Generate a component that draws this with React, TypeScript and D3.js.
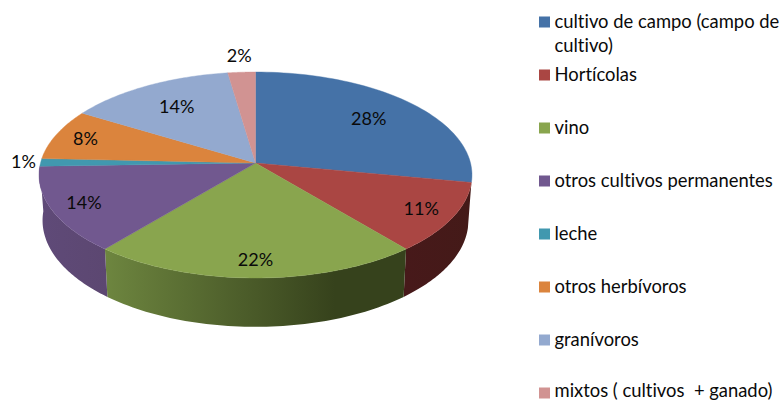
import React from "react";
import * as d3 from "d3";

const categories = ["cultivo de campo (campo de cultivo)", "Hortícolas", "vino", "otros cultivos permanentes", "leche", "otros herbívoros", "granívoros", "mixtos ( cultivos  + ganado)"];
const shares = [28, 11, 22, 13.5, 1.2, 8, 14, 2.3];
const colors = ["#4572A7", "#AA4643", "#89A54E", "#71588F", "#4198AF", "#DB843D", "#93A9CF", "#D19392"];

// layout only
const labelRadii = [0.72, 0.85, 0.86, 0.85, 1.08, 0.85, 0.71, 1.2];
const legendLines = [["cultivo de campo (campo de", "cultivo)"], [categories[1]], [categories[2]], [categories[3]], [categories[4]], [categories[5]], [categories[6]], [categories[7]]];
const legendY = [22, 75, 128, 181, 234, 287, 340, 391];
const FONT = "Lato, 'Open Sans', sans-serif";

const W = 783, H = 401;
const CX = 255.5, P = 0.1165;
const top = { y0: 163, A: 101.6, B: 215 };
const bottom = { y0: 208, A: 105, B: 211.5 };

type Rim = typeof top;
const project = (rim: Rim, theta: number, r = 1): [number, number] => {
  const u = Math.sin(theta) * r, v = -Math.cos(theta) * r, k = 1 - P * v;
  return [CX + (rim.B * u) / k, rim.y0 + (rim.A * v) / k];
};
const arcPoints = (rim: Rim, a0: number, a1: number) =>
  d3.range(0, 61).map((i) => project(rim, a0 + ((a1 - a0) * i) / 60));
const line = d3.line();

const slices = d3.pie<number>().sort(null).startAngle(0).endAngle(2 * Math.PI)(shares);

// the walls seen from the viewer: only the front half of the rim shows
const wallShades: Record<number, [string, string, number, number]> = {
  1: ["#47191a", "#441a18", 406, 472],
  2: ["#6d853f", "#36421c", 107, 335],
  3: ["#5f4a78", "#5c4771", 41, 107],
};

export default function App() {
  return (
    <svg width={W} height={H} viewBox={`0 0 ${W} ${H}`} style={{ position: "absolute", left: 0, top: 0, background: "#fff" }}>
      <defs>
        {Object.entries(wallShades).map(([i, [c0, c1, x0, x1]]) => (
          <linearGradient key={i} id={`wall${i}`} gradientUnits="userSpaceOnUse" x1={x0} x2={x1} y1={0} y2={0}>
            <stop offset="0" stopColor={c0} />
            <stop offset="1" stopColor={c1} />
          </linearGradient>
        ))}
      </defs>

      {slices.map((s, i) => {
        if (!wallShades[i]) return null;
        const a0 = s.startAngle, a1 = Math.min(s.endAngle, (3 * Math.PI) / 2 + 0.06);
        const pts = [...arcPoints(top, a0, a1), ...arcPoints(bottom, a1, a0)];
        return <path key={i} d={line(pts) + "Z"} fill={`url(#wall${i})`} />;
      })}

      {slices.map((s, i) => {
        const pts = [[CX, top.y0] as [number, number], ...arcPoints(top, s.startAngle, s.endAngle)];
        return <path key={i} d={line(pts) + "Z"} fill={colors[i]} stroke={colors[i]} strokeWidth={0.4} />;
      })}

      {slices.map((s, i) => {
        const [x, y] = project(top, (s.startAngle + s.endAngle) / 2, labelRadii[i]);
        return (
          <text key={i} x={x} y={y + 6} textAnchor="middle" fontFamily={FONT} fontSize={18} fill="#0a0a0a">
            {d3.format(".0f")(shares[i])}%
          </text>
        );
      })}

      {categories.map((c, i) => (
        <g key={c}>
          <rect x={539} y={(i === 7 ? 393 : legendY[i]) - 5.5} width={11} height={11} fill={colors[i]} />
          {legendLines[i].map((t, j) => (
            <text key={j} x={554.5} y={legendY[i] + 6 + j * 24} fontFamily={FONT} fontSize={18.4} fill="#0a0a0a" style={{ whiteSpace: "pre", fontVariantLigatures: "none" }}>
              {t}
            </text>
          ))}
        </g>
      ))}
    </svg>
  );
}
